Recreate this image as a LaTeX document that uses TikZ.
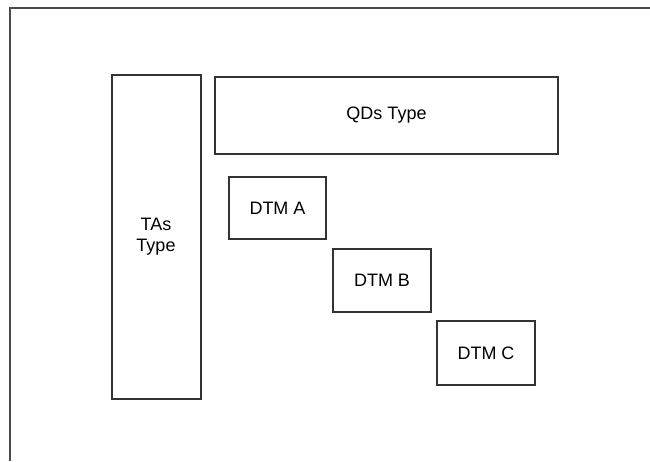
\documentclass[tikz,border=0pt]{standalone}
\usepackage{fontspec}
\setmainfont{Liberation Sans}
\begin{document}
\begin{tikzpicture}[x=1pt,y=-1pt,
  boxstyle/.style={draw=black!80,line width=2pt,inner sep=0pt,font=\fontsize{18}{21}\selectfont,align=center}]
\useasboundingbox (0,0) rectangle (650,461);
\draw[black!70,line width=2pt] (9.5,461) -- (9.5,7.5) -- (651,7.5);
\node[boxstyle,minimum width=89pt,minimum height=324pt] (tas) at (156,237) {TAs\\Type};
\node[boxstyle,minimum width=343pt,minimum height=77pt] (qds) at (386.5,115.5) {QDs Type};
\node[boxstyle,minimum width=97pt,minimum height=62pt] (a) at (277.5,208) {DTM A};
\node[boxstyle,minimum width=98pt,minimum height=63pt] (b) at (382,280.5) {DTM B};
\node[boxstyle,minimum width=98pt,minimum height=64pt] (c) at (486,353) {DTM C};
\end{tikzpicture}
\end{document}
